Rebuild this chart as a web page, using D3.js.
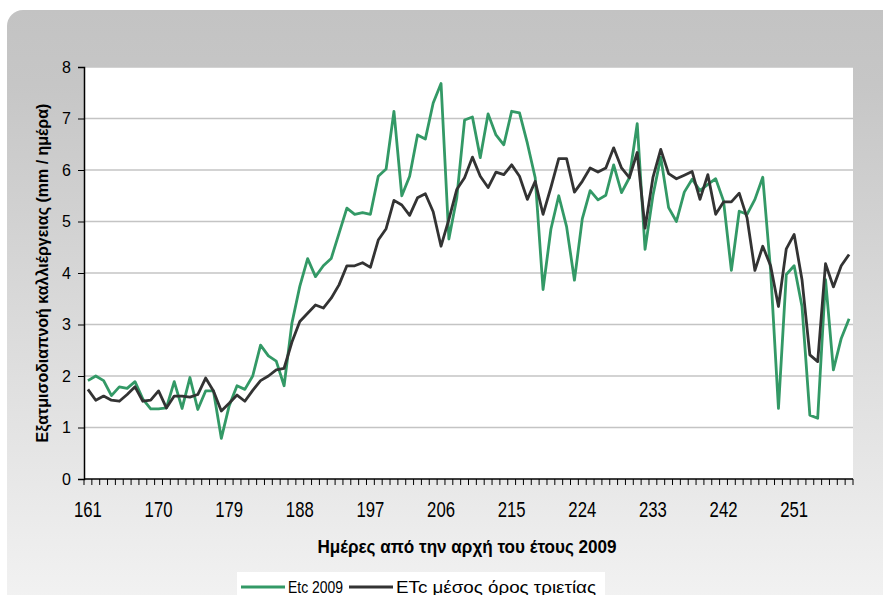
<!DOCTYPE html>
<html lang="el">
<head>
<meta charset="UTF-8" />
<title>ETc 2009</title>
<script src="https://d3js.org/d3.v7.min.js"></script>
<style>
  body { margin: 0; background: #fff; }
  svg { display: block; }
  .tick-y { font-family: 'Liberation Sans', Arial, sans-serif; font-size: 16px; fill: #000; }
  .tick-x { font-family: 'Liberation Sans', Arial, sans-serif; font-size: 22px; fill: #000; }
  .title { font-family: 'Liberation Sans', Arial, sans-serif; font-weight: bold; font-size: 16px; fill: #000; }
  .legend { font-family: 'Liberation Sans', Arial, sans-serif; font-size: 16px; fill: #000; }
</style>
</head>
<body>
<svg width="883" height="595"></svg>
<script>
// days 161..258 (category axis)
const days = d3.range(161, 259);
const tickDays = [161, 170, 179, 188, 197, 206, 215, 224, 233, 242, 251];
const yTicks = [0, 1, 2, 3, 4, 5, 6, 7, 8];

const etc2009 = [
  1.91, 2.0, 1.91, 1.62, 1.79, 1.76, 1.89, 1.55, 1.36, 1.36, 1.38, 1.89, 1.37, 1.97, 1.35, 1.71, 1.71, 0.79, 1.42, 1.81,
  1.74, 2.0, 2.6, 2.39, 2.29, 1.81, 3.03, 3.74, 4.28, 3.93, 4.14, 4.28, 4.77, 5.26, 5.14, 5.17, 5.14, 5.88, 6.02, 7.14,
  5.5, 5.88, 6.68, 6.6, 7.3, 7.68, 4.66, 5.45, 6.97, 7.03, 6.24, 7.09, 6.68, 6.49, 7.14, 7.11, 6.52, 5.85, 3.68, 4.85,
  5.5, 4.9, 3.86, 5.05, 5.6, 5.42, 5.51, 6.1, 5.56, 5.85, 6.9, 4.46, 5.5, 6.25, 5.27, 5.0, 5.57, 5.82, 5.6, 5.72,
  5.83, 5.4, 4.05, 5.2, 5.14, 5.43, 5.86, 4.05, 1.37, 3.97, 4.14, 3.35, 1.24, 1.18, 3.87, 2.12, 2.73, 3.11
];
const etcMean = [
  1.74, 1.53, 1.61, 1.53, 1.51, 1.64, 1.79, 1.51, 1.53, 1.71, 1.38, 1.61, 1.61, 1.59, 1.64, 1.96, 1.71, 1.32, 1.47, 1.63,
  1.51, 1.72, 1.91, 2.0, 2.12, 2.15, 2.66, 3.06, 3.22, 3.38, 3.32, 3.51, 3.77, 4.14, 4.14, 4.2, 4.11, 4.64, 4.86, 5.41,
  5.32, 5.12, 5.46, 5.54, 5.19, 4.52, 5.04, 5.62, 5.85, 6.25, 5.88, 5.66, 5.96, 5.91, 6.1, 5.88, 5.43, 5.78, 5.14, 5.66,
  6.22, 6.22, 5.57, 5.78, 6.04, 5.96, 6.04, 6.43, 6.04, 5.85, 6.34, 4.87, 5.85, 6.4, 5.93, 5.83, 5.9, 5.97, 5.43, 5.91,
  5.14, 5.38, 5.38, 5.55, 5.07, 4.05, 4.52, 4.14, 3.35, 4.47, 4.75, 3.87, 2.41, 2.28, 4.18, 3.73, 4.14, 4.36
];
const seriesNames = ["Etc 2009", "ETc μέσος όρος τριετίας"];
const seriesColors = ["#339966", "#333333"];

const svg = d3.select("svg");
const W = +svg.attr("width"), H = +svg.attr("height");
const m = { left: 84, right: 853, top: 67, bottom: 479 };

// card background
const defs = svg.append("defs");
const bg = defs.append("linearGradient").attr("id", "bg").attr("x1", 0).attr("y1", 0).attr("x2", 0).attr("y2", 1);
bg.append("stop").attr("offset", "0%").attr("stop-color", "#c3c3c3");
bg.append("stop").attr("offset", "12%").attr("stop-color", "#c6c6c6");
bg.append("stop").attr("offset", "100%").attr("stop-color", "#f4f4f4");
svg.append("rect").attr("x", 7).attr("y", 10).attr("width", W + 20).attr("height", H + 20)
  .attr("rx", 16).attr("fill", "url(#bg)");

svg.append("rect").attr("x", m.left).attr("y", m.top).attr("width", m.right - m.left).attr("height", m.bottom - m.top)
  .attr("fill", "#fff");

const x = d3.scaleBand().domain(days).range([m.left, m.right]);
const cx = d => x(d) + x.bandwidth() / 2;
const y = d3.scaleLinear().domain([0, 8]).range([m.bottom, m.top]);

// gridlines
svg.append("g").selectAll("line").data(yTicks.filter(v => v > 0)).join("line")
  .attr("x1", m.left).attr("x2", m.right)
  .attr("y1", d => y(d)).attr("y2", d => y(d))
  .attr("stroke", "#c4c4c4").attr("stroke-width", 1.3);

// y axis
const yAxis = svg.append("g").attr("transform", `translate(${m.left},0)`)
  .call(d3.axisLeft(y).tickValues(yTicks).tickSize(6).tickPadding(7).tickFormat(d3.format("d")));
yAxis.select(".domain").attr("stroke", "#000").attr("stroke-width", 1.5);
yAxis.selectAll(".tick line").attr("stroke", "#000");
yAxis.selectAll(".tick text").attr("class", "tick-y");
yAxis.attr("font-family", null).attr("font-size", null);

// x axis: tick marks between categories, labels every 9 days
svg.append("g").selectAll("line").data(days.concat([null])).join("line")
  .attr("x1", (d, i) => m.left + i * x.bandwidth()).attr("x2", (d, i) => m.left + i * x.bandwidth())
  .attr("y1", m.bottom).attr("y2", m.bottom + 6)
  .attr("stroke", "#000").attr("stroke-width", 1);
const xAxis = svg.append("g").attr("transform", `translate(0,${m.bottom})`)
  .call(d3.axisBottom(x).tickValues(tickDays).tickSize(0).tickPadding(22));
xAxis.select(".domain").attr("stroke", "#000").attr("stroke-width", 1.5).attr("d", `M${m.left},0H${m.right}`);
xAxis.selectAll(".tick text").attr("class", "tick-x").attr("transform", "scale(0.76,1)");
xAxis.attr("font-family", null).attr("font-size", null);

// lines
const line = d3.line().x((d, i) => cx(days[i])).y(d => y(d));
[etc2009, etcMean].forEach((s, i) => {
  svg.append("path").datum(s)
    .attr("d", line)
    .attr("fill", "none")
    .attr("stroke", seriesColors[i])
    .attr("stroke-width", 2.8)
    .attr("stroke-linejoin", "round");
});

// axis titles
svg.append("text").attr("class", "title")
  .attr("transform", `translate(48,${(m.top + m.bottom) / 2}) rotate(-90)`)
  .attr("text-anchor", "middle")
  .text("Εξατμισοδιαπνοή καλλιέργειας (mm / ημέρα)");
svg.append("text").attr("class", "title")
  .attr("transform", "translate(467,553) scale(0.9,1)")
  .attr("text-anchor", "middle")
  .style("font-size", "19px")
  .text("Ημέρες από την αρχή του έτους 2009");

// legend
const lg = svg.append("g");
lg.append("rect").attr("x", 237).attr("y", 572).attr("width", 368).attr("height", 30).attr("fill", "#fff");
const items = [{ x: 241, tx: 288, w: 55 }, { x: 349, tx: 396, w: 200 }];
items.forEach((it, i) => {
  lg.append("line").attr("x1", it.x).attr("x2", it.x + 44).attr("y1", 587).attr("y2", 587)
    .attr("stroke", seriesColors[i]).attr("stroke-width", 3);
  lg.append("text").attr("class", "legend").attr("x", it.tx).attr("y", 593)
    .attr("textLength", it.w).attr("lengthAdjust", "spacingAndGlyphs")
    .text(seriesNames[i]);
});
</script>
</body>
</html>
